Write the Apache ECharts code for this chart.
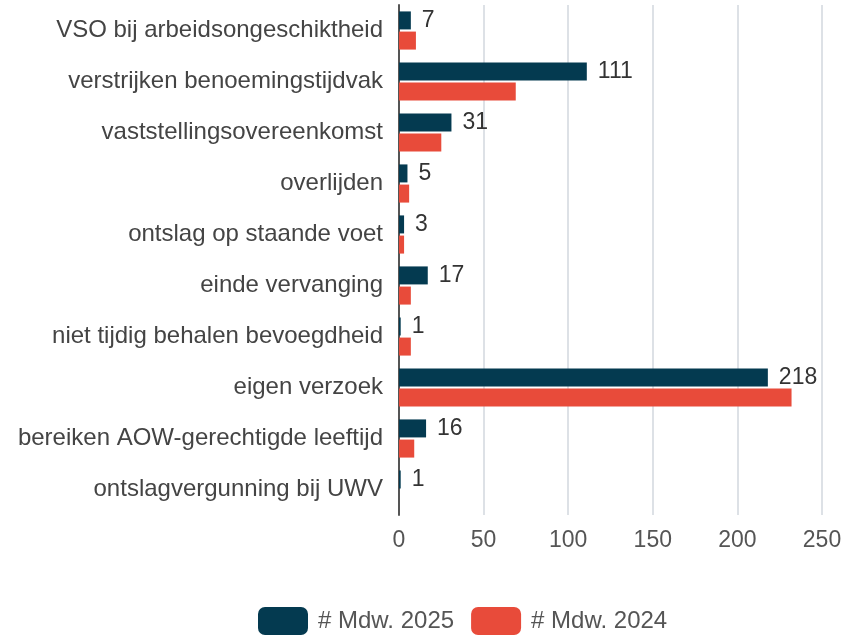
<!DOCTYPE html>
<html>
<head>
<meta charset="utf-8">
<script src="https://cdn.jsdelivr.net/npm/echarts@6/dist/echarts.min.js"></script>
<style>
  html, body { margin: 0; padding: 0; background: #fff; }
  #chart { width: 852px; height: 636px; }
</style>
</head>
<body>
<div id="chart"></div>
<script>
const categories = [
  'VSO bij arbeidsongeschiktheid',
  'verstrijken benoemingstijdvak',
  'vaststellingsovereenkomst',
  'overlijden',
  'ontslag op staande voet',
  'einde vervanging',
  'niet tijdig behalen bevoegdheid',
  'eigen verzoek',
  'bereiken AOW-gerechtigde leeftijd',
  'ontslagvergunning bij UWV'
];
const mdw2025 = [7, 111, 31, 5, 3, 17, 1, 218, 16, 1];
const mdw2024 = [10, 69, 25, 6, 3, 7, 7, 232, 9, 0];
const xTicks = [0, 50, 100, 150, 200, 250];

const FONT = '"Liberation Sans", Arial, sans-serif';

let myChart = echarts.init(document.getElementById('chart'));
myChart.setOption({
  animation: false,
  textStyle: { fontFamily: FONT },
  grid: {
    left: 399,
    right: 30,
    top: 5,
    bottom: 121
  },
  xAxis: {
    type: 'value',
    min: xTicks[0],
    max: xTicks[xTicks.length - 1],
    interval: 50,
    axisLine: { show: false },
    axisTick: { show: false },
    axisLabel: { color: '#555', fontSize: 23, margin: 14, fontFamily: FONT },
    splitLine: { lineStyle: { color: '#dde1e6', width: 2 } }
  },
  yAxis: {
    type: 'category',
    data: categories,
    inverse: true,
    axisLine: { show: true, lineStyle: { color: '#555', width: 2 } },
    axisTick: { show: false },
    axisLabel: { color: '#444', fontSize: 24, margin: 16, fontFamily: FONT }
  },
  legend: {
    bottom: 1,
    left: 258,
    padding: 0,
    itemWidth: 50,
    itemHeight: 28,
    itemGap: 17,
    icon: 'roundRect',
    textStyle: { color: '#555', fontSize: 24, fontFamily: FONT, padding: [0, 0, 0, 5] }
  },
  series: [
    {
      name: '# Mdw. 2025',
      type: 'bar',
      data: mdw2025,
      barWidth: 18,
      barGap: '12%',
      itemStyle: { color: '#043a50' },
      label: {
        show: true,
        position: 'right',
        distance: 11,
        color: '#333',
        fontSize: 23,
        fontFamily: FONT
      }
    },
    {
      name: '# Mdw. 2024',
      type: 'bar',
      data: mdw2024,
      barWidth: 18,
      itemStyle: { color: '#e84b3a' }
    }
  ]
});
window.onresize = function () {
  myChart.resize();
};
</script>
</body>
</html>
